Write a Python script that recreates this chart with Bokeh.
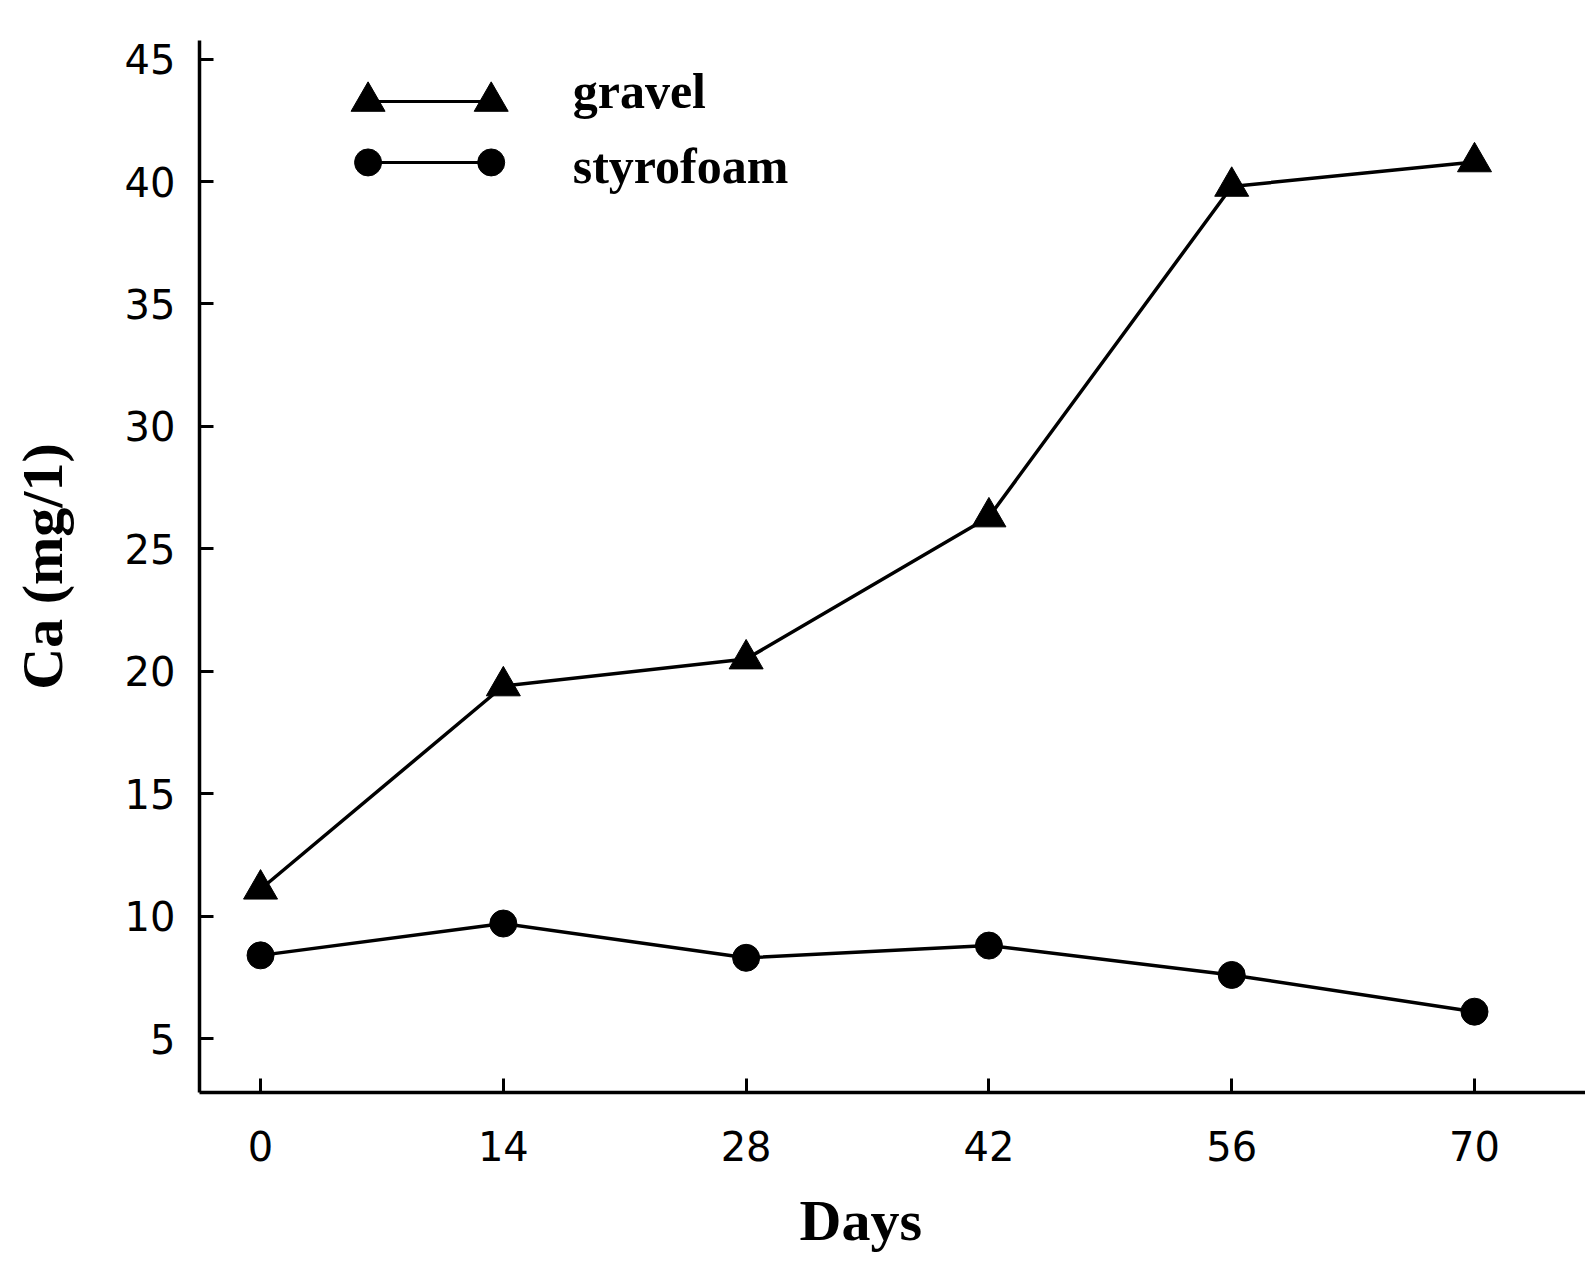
from bokeh.plotting import figure
from bokeh.models import Range1d, FixedTicker, Label, Title
from bokeh.embed import file_html
from bokeh.resources import INLINE

# ---- data ----
days = [0, 14, 28, 42, 56, 70]
gravel = [11.1, 19.4, 20.5, 26.3, 39.8, 40.8]
styrofoam = [8.4, 9.7, 8.3, 8.8, 7.6, 6.1]
x_ticks = [0, 14, 28, 42, 56, 70]
y_ticks = [5, 10, 15, 20, 25, 30, 35, 40, 45]
series_names = ["gravel", "styrofoam"]
x_label = "Days"
y_label = "Ca (mg/1)"

TICK_FONT = "DejaVu Sans"
SERIF = "Liberation Serif"

p = figure(width=1585, height=1278, output_backend="svg", toolbar_location=None,
           x_range=Range1d(-3.52, 76.4), y_range=Range1d(2.8, 45.76),
           min_border_left=199, min_border_right=0, min_border_top=40, min_border_bottom=186)
p.outline_line_color = None
p.grid.visible = False
p.background_fill_color = "white"
p.border_fill_color = "white"

for ax in (p.xaxis[0], p.yaxis[0]):
    ax.axis_line_color = "black"
    ax.axis_line_width = 3.5
    ax.major_tick_line_color = "black"
    ax.major_tick_line_width = 3
    ax.major_tick_in = 14
    ax.major_tick_out = 0
    ax.minor_tick_line_color = None
    ax.major_label_text_font = TICK_FONT
    ax.major_label_text_font_size = "40px"
    ax.major_label_text_color = "black"
    ax.axis_label_text_font = SERIF
    ax.axis_label_text_font_style = "bold"
    ax.axis_label_text_font_size = "58px"
    ax.axis_label_text_color = "black"

p.xaxis[0].ticker = FixedTicker(ticks=x_ticks)
p.yaxis[0].ticker = FixedTicker(ticks=y_ticks)
p.xaxis[0].major_label_standoff = 38
p.yaxis[0].major_label_standoff = 24

p.yaxis[0].axis_label = y_label
p.yaxis[0].axis_label_standoff = 47

# x-axis title placed as in the original (slightly left of centre)
p.add_layout(Title(text=x_label, align="left", offset=600, text_font=SERIF,
                   text_font_style="bold", text_font_size="58px", text_color="black",
                   standoff=45), "below")

# series
p.line(days, gravel, line_color="black", line_width=3.5)
p.scatter(days, gravel, marker="triangle", size=34, fill_color="black", line_color="black")
p.line(days, styrofoam, line_color="black", line_width=3.5)
p.scatter(days, styrofoam, marker="circle", size=27, fill_color="black", line_color="black")

# legend (drawn manually to match the original key: marker at both ends)
leg_x = [6.2, 13.3]
leg_y = [43.27, 40.78]
leg_text_x = 18.0
leg_text_y = [43.7, 40.65]
markers = ["triangle", "circle"]
msizes = [34, 27]
for i, name in enumerate(series_names):
    p.line(leg_x, [leg_y[i]] * 2, line_color="black", line_width=3)
    p.scatter(leg_x, [leg_y[i]] * 2, marker=markers[i], size=msizes[i],
              fill_color="black", line_color="black")
    p.add_layout(Label(x=leg_text_x, y=leg_text_y[i], text=name, text_font=SERIF,
                       text_font_style="bold", text_font_size="50px",
                       text_baseline="alphabetic", text_color="black"))

open("out.html", "w").write(file_html(p, INLINE))
